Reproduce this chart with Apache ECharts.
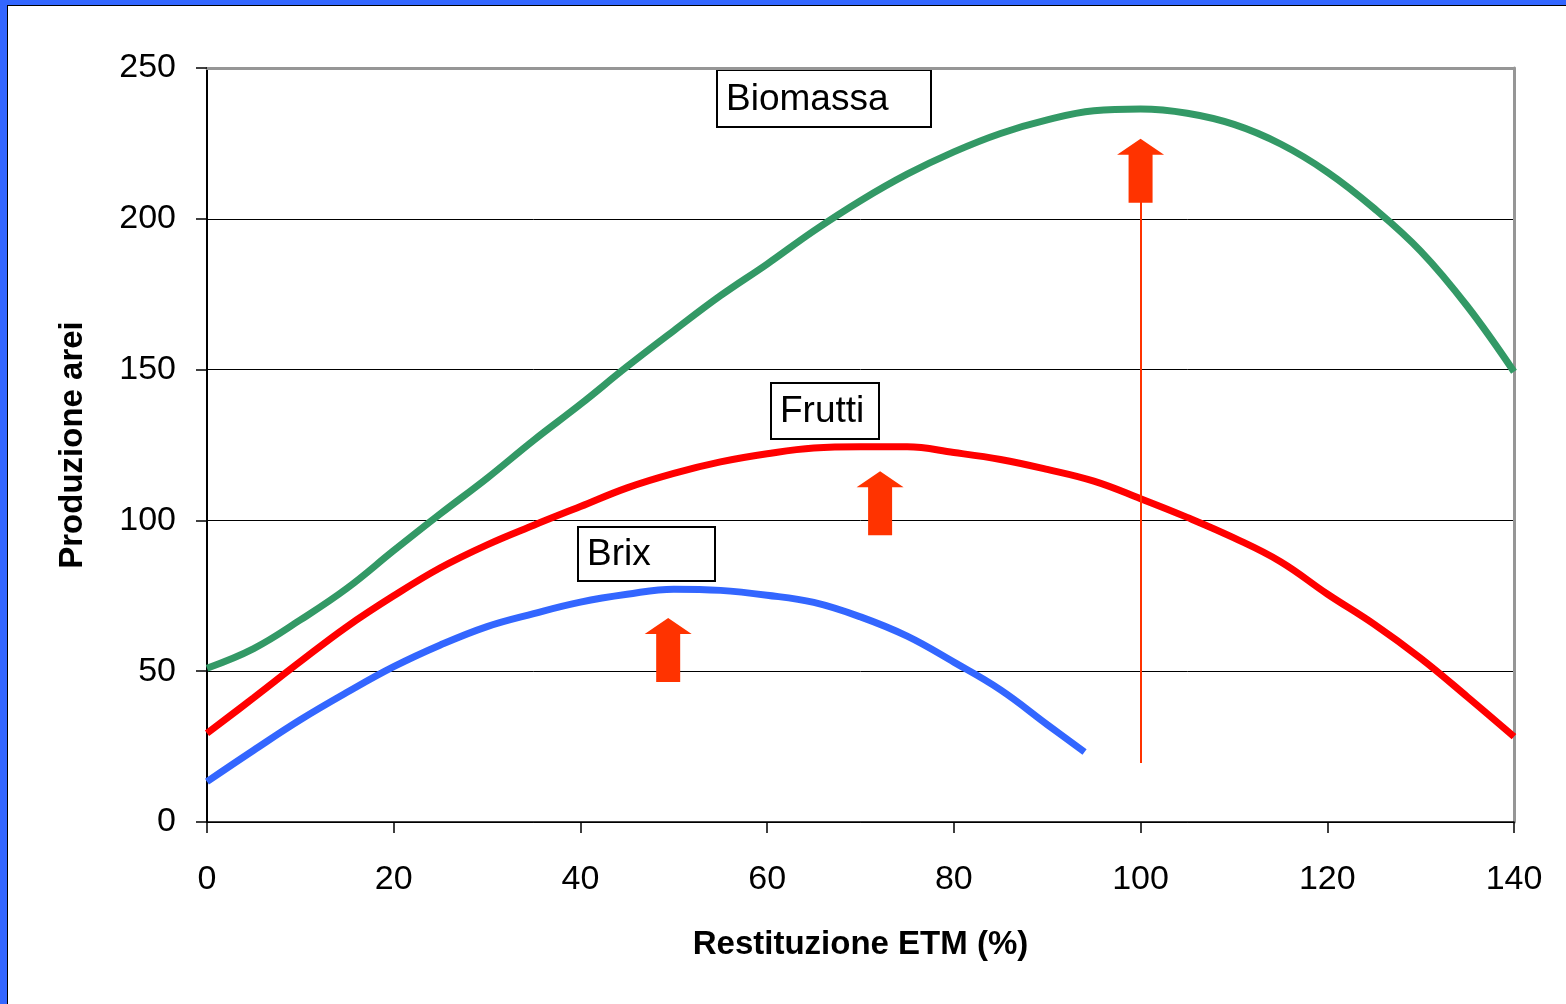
<!DOCTYPE html>
<html>
<head>
<meta charset="utf-8">
<script src="https://cdn.jsdelivr.net/npm/echarts@6/dist/echarts.min.js"></script>
<style>
html,body{margin:0;padding:0;background:#fff;overflow:hidden;}
#c{position:absolute;left:0;top:0;width:1566px;height:1004px;}
.f{position:absolute;pointer-events:none;}
</style>
</head>
<body>
<div id="c"></div>
<div class="f" style="left:0;top:0;width:1566px;height:5px;background:#3366FF"></div>
<div class="f" style="left:0;top:0;width:7px;height:1004px;background:#3366FF"></div>
<div class="f" style="left:7px;top:5px;width:1559px;height:1px;background:#000"></div>
<div class="f" style="left:7px;top:5px;width:1px;height:999px;background:#000"></div>
<script>
// ---- data ----
const xValues = [0,5,10,15,20,25,30,35,40,45,50,55,60,65,70,75,80,85,90,95,100,105,110,115,120,125,130,135,140];
const biomassa = [51,57.5,67,77.5,90,102.2,114,126.6,138.5,151,162.9,174.5,185,196,206,214.8,222.2,228.3,232.8,235.8,236.4,235,231.3,224.8,215.5,203.5,189.3,171,149.3];
const frutti = [29.4,41.2,53.2,64.8,75,84.3,91.9,98.4,104.6,110.8,115.6,119.4,122.1,124,124.4,124.4,122.5,120.2,116.9,113,107.2,101,94.2,86.3,75.6,65.6,54.3,41.5,28.3];
const brixX = [0,5,10,15,20,25,30,35,40,45,50,55,60,65,70,75,80,85,90,94];
const brix = [13.4,23.8,33.9,43,51.5,58.7,64.8,69.1,72.9,75.5,77.2,76.8,75.2,72.8,68,61.6,53,43.8,32.3,23.2];
const xTicks = {min:0, max:140, interval:20};
const yTicks = {min:0, max:250, interval:50};
// annotation arrows (x, centre value)
const arrowX = [100, 72.1, 49.4];
const arrowY = [215.9, 105.7, 57.0];
const vLineX = 100;
const vLineFrom = 19.6;
const vLineTo = 205.8;
const boxLabels = ['Biomassa','Frutti','Brix'];
const xName = 'Restituzione ETM (%)';
const yName = 'Produzione arei';

const FONT = '"Liberation Sans", Arial, sans-serif';
const pair = (xs, ys) => xs.map((x, i) => [x, ys[i]]);

const chart = echarts.init(document.getElementById('c'), null, {renderer:'canvas'});
const arrowPath = 'path://M23.5,0 L47,16 L35.5,16 L35.5,64 L11.5,64 L11.5,16 L0,16 Z';

const boxes = [
  {x:717, y:70, w:214, h:57, tx:726},
  {x:771, y:383, w:108, h:56, tx:780},
  {x:578, y:527, w:137, h:54, tx:587}
];

const option = {
  animation:false,
  backgroundColor:'#fff',
  grid:{left:207, right:52, top:68, bottom:182, containLabel:false},
  xAxis:[{
    type:'value', min:xTicks.min, max:xTicks.max, interval:xTicks.interval,
    name:xName, nameLocation:'middle', nameGap:106,
    nameTextStyle:{fontFamily:FONT, fontSize:33, fontWeight:'bold', color:'#000'},
    axisLine:{show:true, onZero:false, lineStyle:{color:'#000', width:1.5}},
    axisTick:{show:true, length:11, lineStyle:{color:'#000', width:1.5}},
    axisLabel:{fontFamily:FONT, fontSize:34, color:'#000', margin:41},
    splitLine:{show:false}
  },{
    type:'value', position:'top', min:xTicks.min, max:xTicks.max, interval:xTicks.interval,
    axisLine:{show:true, onZero:false, lineStyle:{color:'#969696', width:3}},
    axisTick:{show:false}, axisLabel:{show:false}, splitLine:{show:false}
  }],
  yAxis:[{
    type:'value', min:yTicks.min, max:yTicks.max, interval:yTicks.interval,
    name:yName, nameLocation:'middle', nameGap:118, nameRotate:90,
    nameTextStyle:{fontFamily:FONT, fontSize:33, fontWeight:'bold', color:'#000'},
    axisLine:{show:true, onZero:false, lineStyle:{color:'#000', width:2}},
    axisTick:{show:true, length:11, lineStyle:{color:'#000', width:1.5}},
    axisLabel:{fontFamily:FONT, fontSize:34, color:'#000', margin:31},
    splitLine:{show:true, lineStyle:{color:'#000', width:1}}
  },{
    type:'value', position:'right', min:yTicks.min, max:yTicks.max, interval:yTicks.interval,
    axisLine:{show:true, onZero:false, lineStyle:{color:'#969696', width:3}},
    axisTick:{show:false}, axisLabel:{show:false}, splitLine:{show:false}
  }],
  series:[
    {
      name:boxLabels[0], type:'line', data:pair(xValues, biomassa), smooth:0.4,
      showSymbol:false, lineStyle:{color:'#339966', width:7}, itemStyle:{color:'#339966'}, z:3
    },
    {
      name:boxLabels[1], type:'line', data:pair(xValues, frutti), smooth:0.4,
      showSymbol:false, lineStyle:{color:'#FF0000', width:7}, itemStyle:{color:'#FF0000'}, z:3,
      markLine:{
        silent:true, symbol:'none', label:{show:false},
        lineStyle:{color:'#FF3300', width:2, type:'solid'},
        data:[[{coord:[vLineX, vLineFrom]}, {coord:[vLineX, vLineTo]}]]
      }
    },
    {
      name:boxLabels[2], type:'line', data:pair(brixX, brix), smooth:0.4,
      showSymbol:false, lineStyle:{color:'#3366FF', width:7}, itemStyle:{color:'#3366FF'}, z:3,
      markPoint:{
        silent:true, symbol:arrowPath, symbolSize:[47,64], symbolKeepAspect:false,
        label:{show:false}, itemStyle:{color:'#FF3300'},
        data:arrowX.map((x, i) => ({coord:[x, arrowY[i]]}))
      }
    }
  ],
  graphic: boxes.map((b, i) => ({
    type:'group', z:100,
    children:[
      {type:'rect', shape:{x:b.x, y:b.y, width:b.w, height:b.h},
       style:{fill:'#fff', stroke:'#000', lineWidth:2}},
      {type:'text', style:{x:b.tx, y:b.y + b.h/2 + 1, text:boxLabels[i], fontFamily:FONT, fontSize:37,
       fill:'#000', verticalAlign:'middle', align:'left'}}
    ]
  }))
};
chart.setOption(option);
</script>
</body>
</html>
